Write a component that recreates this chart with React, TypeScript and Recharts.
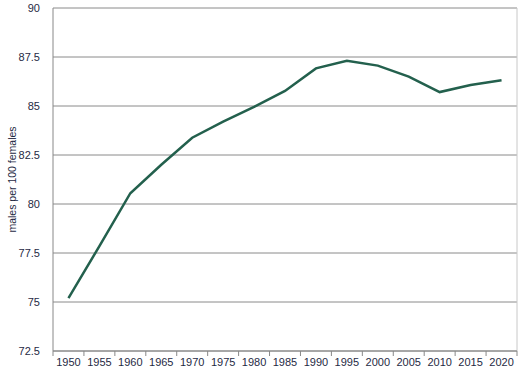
import {
  CartesianGrid,
  Line,
  LineChart,
  XAxis,
  YAxis,
} from "recharts";

const years = [
  "1950", "1955", "1960", "1965", "1970", "1975", "1980", "1985",
  "1990", "1995", "2000", "2005", "2010", "2015", "2020",
];

const sexRatio = [
  75.2, 77.85, 80.55, 82.0, 83.38, 84.2, 84.95, 85.77,
  86.92, 87.31, 87.06, 86.5, 85.71, 86.07, 86.31,
];

const yTicks = [72.5, 75, 77.5, 80, 82.5, 85, 87.5, 90];

const data = years.map((year, i) => ({
  year,
  value: sexRatio[i],
}));

const FONT = "'Liberation Sans', Arial, sans-serif";
const TEXT = "#1f2a44";
const BAND = (517 - 53) / years.length;

function XTick(props: any) {
  const { x, y, index } = props;
  return (
    <g>
      <line x1={x - BAND / 2} y1={y - 8} x2={x - BAND / 2} y2={y - 3} stroke="#888" />
      {index === years.length - 1 && (
        <line x1={x + BAND / 2} y1={y - 8} x2={x + BAND / 2} y2={y - 3} stroke="#888" />
      )}
      <text
        x={x}
        y={y + 7}
        textAnchor="middle"
        fontSize={11}
        fontFamily={FONT}
        fill={TEXT}
      >
        {props.payload.value}
      </text>
    </g>
  );
}

export default function App() {
  return (
    <div style={{ position: "absolute", left: 0, top: 0, background: "#fff" }}>
      <LineChart
        width={530}
        height={380}
        data={data}
        margin={{ top: 8, right: 13, bottom: 0, left: 0 }}
      >
        <CartesianGrid vertical={false} stroke="#8a8a8a" strokeWidth={1} />
        <XAxis
          dataKey="year"
          scale="band"
          interval={0}
          tickLine={false}
          axisLine={{ stroke: "#888" }}
          tick={<XTick />}
          height={29}
        />
        <YAxis
          domain={[72.5, 90]}
          ticks={yTicks}
          interval={0}
          width={53}
          tickLine={false}
          axisLine={{ stroke: "#888" }}
          tickMargin={7}
          tick={{ fontSize: 11, fontFamily: FONT, fill: TEXT }}
          label={{
            value: "males per 100 females",
            angle: -90,
            position: "insideLeft",
            offset: 12,
            style: { fontSize: 10.5, fontFamily: FONT, fill: TEXT, textAnchor: "middle" },
          }}
        />
        <Line
          dataKey="value"
          type="linear"
          stroke="#23604d"
          strokeWidth={2.5}
          dot={false}
          isAnimationActive={false}
        />
        <line x1={517} y1={8} x2={517} y2={351} stroke="#c8c8c8" />
      </LineChart>
    </div>
  );
}
